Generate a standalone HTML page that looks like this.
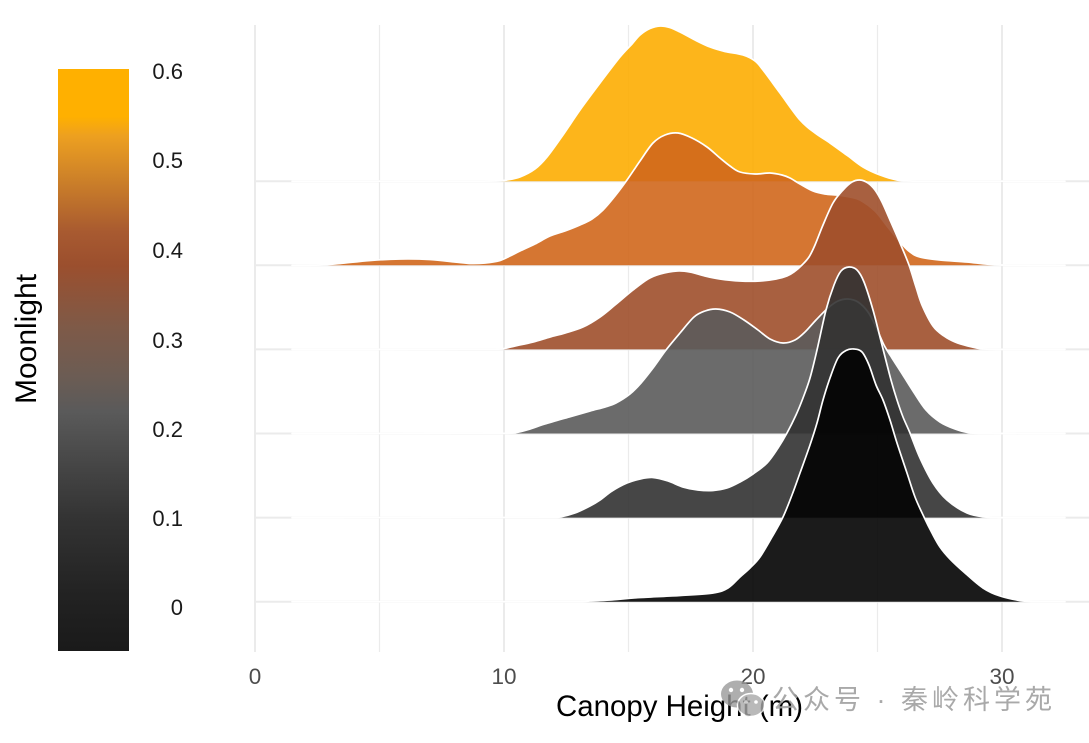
<!DOCTYPE html>
<html>
<head>
<meta charset="utf-8">
<style>
  html,body{margin:0;padding:0;background:#fff;}
  svg{display:block;}
  text{font-family:"Liberation Sans","Noto Sans CJK SC",sans-serif;}
</style>
</head>
<body>
<svg id="chart" width="1089" height="743" viewBox="0 0 1089 743" xmlns="http://www.w3.org/2000/svg">
  <defs>
    <linearGradient id="cb" x1="0" y1="0" x2="0" y2="1">
      <stop offset="0" stop-color="#FFB000"/>
      <stop offset="0.082" stop-color="#FFB000"/>
      <stop offset="0.115" stop-color="#EDA020"/>
      <stop offset="0.182" stop-color="#D08428"/>
      <stop offset="0.28" stop-color="#A85A30"/>
      <stop offset="0.338" stop-color="#9B4F2E"/>
      <stop offset="0.445" stop-color="#7E5A48"/>
      <stop offset="0.531" stop-color="#6B5C54"/>
      <stop offset="0.589" stop-color="#5A5A5A"/>
      <stop offset="0.675" stop-color="#474747"/>
      <stop offset="0.773" stop-color="#333333"/>
      <stop offset="0.905" stop-color="#222222"/>
      <stop offset="1" stop-color="#1A1A1A"/>
    </linearGradient>
  </defs>
  <rect width="1089" height="743" fill="#fff"/>

  <!-- grid -->
  <g stroke="#EBEBEB" fill="none">
    <line x1="379.5" y1="25" x2="379.5" y2="652" stroke-width="1.2"/>
    <line x1="628.5" y1="25" x2="628.5" y2="652" stroke-width="1.2"/>
    <line x1="877.5" y1="25" x2="877.5" y2="652" stroke-width="1.2"/>
    <line x1="255" y1="25" x2="255" y2="652" stroke-width="2"/>
    <line x1="504" y1="25" x2="504" y2="652" stroke-width="2"/>
    <line x1="753" y1="25" x2="753" y2="652" stroke-width="2"/>
    <line x1="1002" y1="25" x2="1002" y2="652" stroke-width="2"/>
    <line x1="255" y1="181.2" x2="1089" y2="181.2" stroke-width="2"/>
    <line x1="255" y1="265.3" x2="1089" y2="265.3" stroke-width="2"/>
    <line x1="255" y1="349.4" x2="1089" y2="349.4" stroke-width="2"/>
    <line x1="255" y1="433.5" x2="1089" y2="433.5" stroke-width="2"/>
    <line x1="255" y1="517.6" x2="1089" y2="517.6" stroke-width="2"/>
    <line x1="255" y1="601.7" x2="1089" y2="601.7" stroke-width="2"/>
  </g>

  <g stroke-linejoin="round" stroke-linecap="round">
    <!-- yellow ridge -->
    <polygon class="sm" fill="#FDAD02" fill-opacity="0.9" points="292,181.2 480,181.1 500,180.6 507,180 520,177 535,169 547,157 563,135 580,110 600,83 620,57 632,44 640,35 650,28.5 660,26 670,27.5 680,32 695,40 710,47 725,51.5 743,55 755,61 763,70 780,93 800,120 815,133 830,143 848,156 863,167 880,175 897,180 910,181 930,181.2 1065,181.2"/>
    <polyline class="sm" fill="none" stroke="#fff" stroke-width="1.7" points="292,181.2 480,181.1 500,180.6 507,180 520,177 535,169 547,157 563,135 580,110 600,83 620,57 632,44 640,35 650,28.5 660,26 670,27.5 680,32 695,40 710,47 725,51.5 743,55 755,61 763,70 780,93 800,120 815,133 830,143 848,156 863,167 880,175 897,180 910,181 930,181.2 1065,181.2"/>

    <!-- orange ridge -->
    <polygon class="sm" fill="#D0671C" fill-opacity="0.9" points="292,265.3 320,265 340,263.5 370,260.5 400,259 430,259.5 455,262 470,263.5 485,263 500,260.5 510,256 520,251 535,244 550,236 565,231 580,225 592,219 603,210 615,196 627,180 640,161 653,143 665,135 678,133 692,138 707,147 720,158 730,166 740,172 755,174 770,173 782,175 790,178 800,184 813,191 825,194 837,195 850,197 860,200 875,211 887,226 900,242 910,252 920,257 940,260 967,262 1000,265 1065,265.3"/>
    <polyline class="sm" fill="none" stroke="#fff" stroke-width="1.7" points="292,265.3 320,265 340,263.5 370,260.5 400,259 430,259.5 455,262 470,263.5 485,263 500,260.5 510,256 520,251 535,244 550,236 565,231 580,225 592,219 603,210 615,196 627,180 640,161 653,143 665,135 678,133 692,138 707,147 720,158 730,166 740,172 755,174 770,173 782,175 790,178 800,184 813,191 825,194 837,195 850,197 860,200 875,211 887,226 900,242 910,252 920,257 940,260 967,262 1000,265 1065,265.3"/>

    <!-- brown ridge -->
    <polygon class="sm" fill="#9E4F2B" fill-opacity="0.9" points="292,349.4 495,349.2 505,348.3 515,346 533,342 550,337 565,333 583,327 600,317 615,305 633,290 648,279 660,274 677,271 690,272 705,276 720,279 740,281 760,281 776,279 787,276 794,272 802,265 809,257 815,245 823,225 833,203 843,190 852,182 860,180 868,183 875,190 882,202 890,220 900,243 909,265 916,287 922,305 933,326 944,336 955,342 968,346 983,349 1000,349.4 1065,349.4"/>
    <polyline class="sm" fill="none" stroke="#fff" stroke-width="1.7" points="292,349.4 495,349.2 505,348.3 515,346 533,342 550,337 565,333 583,327 600,317 615,305 633,290 648,279 660,274 677,271 690,272 705,276 720,279 740,281 760,281 776,279 787,276 794,272 802,265 809,257 815,245 823,225 833,203 843,190 852,182 860,180 868,183 875,190 882,202 890,220 900,243 909,265 916,287 922,305 933,326 944,336 955,342 968,346 983,349 1000,349.4 1065,349.4"/>

    <!-- gray ridge -->
    <polygon class="sm" fill="#5B5B5B" fill-opacity="0.9" points="292,433.5 505,433.3 516,432.5 530,429 545,424 569,417 590,411 605,407 616,403 630,394 641,383 653,368 666,350 680,333 694,317 705,311 716,309 730,312 744,320 758,330 770,339 783,343 795,340 805,332 816,320 828,308 838,301 848,299 858,302 868,312 876,327 884,345 892,358 901,372 913,391 926,410 940,422 955,429 968,432.5 985,433.4 1065,433.5"/>
    <polyline class="sm" fill="none" stroke="#fff" stroke-width="1.7" points="292,433.5 505,433.3 516,432.5 530,429 545,424 569,417 590,411 605,407 616,403 630,394 641,383 653,368 666,350 680,333 694,317 705,311 716,309 730,312 744,320 758,330 770,339 783,343 795,340 805,332 816,320 828,308 838,301 848,299 858,302 868,312 876,327 884,345 892,358 901,372 913,391 926,410 940,422 955,429 968,432.5 985,433.4 1065,433.5"/>

    <!-- dark ridge -->
    <polygon class="sm" fill="#323232" fill-opacity="0.9" points="292,517.6 550,517.4 560,517 575,513 590,506 600,500 612,491 627,483 640,479 653,477.5 668,481 683,487 698,490 713,490.5 727,488 740,482 753,474 767,463 778,448 787,433 796,415 803,398 810,378 817,350 826,310 834,285 841,271 849,267 857,270 864,282 873,310 882,345 891,380 897,400 903,417 910,433 920,458 933,483 947,500 967,513 985,517 1000,517.6 1065,517.6"/>
    <polyline class="sm" fill="none" stroke="#fff" stroke-width="1.7" points="292,517.6 550,517.4 560,517 575,513 590,506 600,500 612,491 627,483 640,479 653,477.5 668,481 683,487 698,490 713,490.5 727,488 740,482 753,474 767,463 778,448 787,433 796,415 803,398 810,378 817,350 826,310 834,285 841,271 849,267 857,270 864,282 873,310 882,345 891,380 897,400 903,417 910,433 920,458 933,483 947,500 967,513 985,517 1000,517.6 1065,517.6"/>

    <!-- black ridge -->
    <polygon class="sm" fill="#020202" fill-opacity="0.9" points="292,601.7 580,601.7 590,601 610,600 640,597.5 680,595.5 713,593 728,588 740,577 750,568 760,557 772,537 783,517 792,495 800,473 810,445 817,423 823,400 830,378 838,358 846,350.5 854,349 862,352 869,365 876,385 883,400 890,420 897,443 907,473 915,497 924,517 932,533 940,547 950,559 965,573 983,588 1000,596 1023,601 1040,601.7 1065,601.7"/>
    <polyline class="sm" fill="none" stroke="#fff" stroke-width="1.7" points="292,601.7 580,601.7 590,601 610,600 640,597.5 680,595.5 713,593 728,588 740,577 750,568 760,557 772,537 783,517 792,495 800,473 810,445 817,423 823,400 830,378 838,358 846,350.5 854,349 862,352 869,365 876,385 883,400 890,420 897,443 907,473 915,497 924,517 932,533 940,547 950,559 965,573 983,588 1000,596 1023,601 1040,601.7 1065,601.7"/>
  </g>

  <!-- colorbar -->
  <rect x="58" y="69" width="71" height="582" fill="url(#cb)"/>
  <g font-size="22" fill="#1a1a1a" text-anchor="end">
    <text x="183" y="79">0.6</text>
    <text x="183" y="168">0.5</text>
    <text x="183" y="258">0.4</text>
    <text x="183" y="348">0.3</text>
    <text x="183" y="437">0.2</text>
    <text x="183" y="526">0.1</text>
    <text x="183" y="615">0</text>
  </g>
  <text x="0" y="0" font-size="30" fill="#000" text-anchor="middle" transform="translate(36,339) rotate(-90)">Moonlight</text>

  <!-- x ticks -->
  <g font-size="22.5" fill="#4d4d4d" text-anchor="middle">
    <text x="255" y="684">0</text>
    <text x="504" y="684">10</text>
    <text x="753" y="684">20</text>
    <text x="1002" y="684">30</text>
  </g>
  <text x="556" y="716" font-size="29.5" fill="#000" textLength="247" lengthAdjust="spacingAndGlyphs">Canopy Height (m)</text>

  <!-- watermark -->
  <g opacity="0.8">
    <ellipse cx="737" cy="694" rx="16" ry="13.5" fill="#9a9a9a"/>
    <circle cx="731" cy="690" r="2.2" fill="#fff"/>
    <circle cx="742" cy="690" r="2.2" fill="#fff"/>
    <ellipse cx="751" cy="705" rx="13.5" ry="11.5" fill="#a8a8a8" stroke="#fff" stroke-width="1.5"/>
    <circle cx="746" cy="702" r="1.8" fill="#fff"/>
    <circle cx="756" cy="702" r="1.8" fill="#fff"/>
  </g>
  <text x="772" y="709" font-size="27" fill="#a0a0a0" fill-opacity="0.9" textLength="280" lengthAdjust="spacing" style='font-family:"Liberation Sans","Noto Sans CJK SC",sans-serif;'>公众号 · 秦岭科学苑</text>
</svg>
<script>
(function(){
  var NS = "http://www.w3.org/2000/svg";
  var els = document.querySelectorAll('#chart .sm');
  for (var k = 0; k < els.length; k++) {
    var el = els[k];
    var raw = el.getAttribute('points').trim().split(/\s+/);
    var p = raw.map(function(s){ var a = s.split(','); return [parseFloat(a[0]), parseFloat(a[1])]; });
    var base = p[0][1];
    var n = p.length;
    var d = 'M' + p[0][0] + ',' + p[0][1];
    for (var i = 0; i < n - 1; i++) {
      var p0 = p[Math.max(i - 1, 0)], p1 = p[i], p2 = p[i + 1], p3 = p[Math.min(i + 2, n - 1)];
      var c1x = p1[0] + (p2[0] - p0[0]) / 6, c1y = p1[1] + (p2[1] - p0[1]) / 6;
      var c2x = p2[0] - (p3[0] - p1[0]) / 6, c2y = p2[1] - (p3[1] - p1[1]) / 6;
      c1x = Math.min(Math.max(c1x, p1[0]), p2[0]);
      c2x = Math.min(Math.max(c2x, p1[0]), p2[0]);
      c1y = Math.min(c1y, base); c2y = Math.min(c2y, base);
      d += ' C' + c1x.toFixed(2) + ',' + c1y.toFixed(2) + ' ' + c2x.toFixed(2) + ',' + c2y.toFixed(2) + ' ' + p2[0] + ',' + p2[1];
    }
    if (el.tagName.toLowerCase() === 'polygon') d += ' Z';
    var path = document.createElementNS(NS, 'path');
    for (var j = 0; j < el.attributes.length; j++) {
      var at = el.attributes[j];
      if (at.name !== 'points' && at.name !== 'class') path.setAttribute(at.name, at.value);
    }
    path.setAttribute('d', d);
    el.parentNode.replaceChild(path, el);
  }
})();
</script>
</body>
</html>
